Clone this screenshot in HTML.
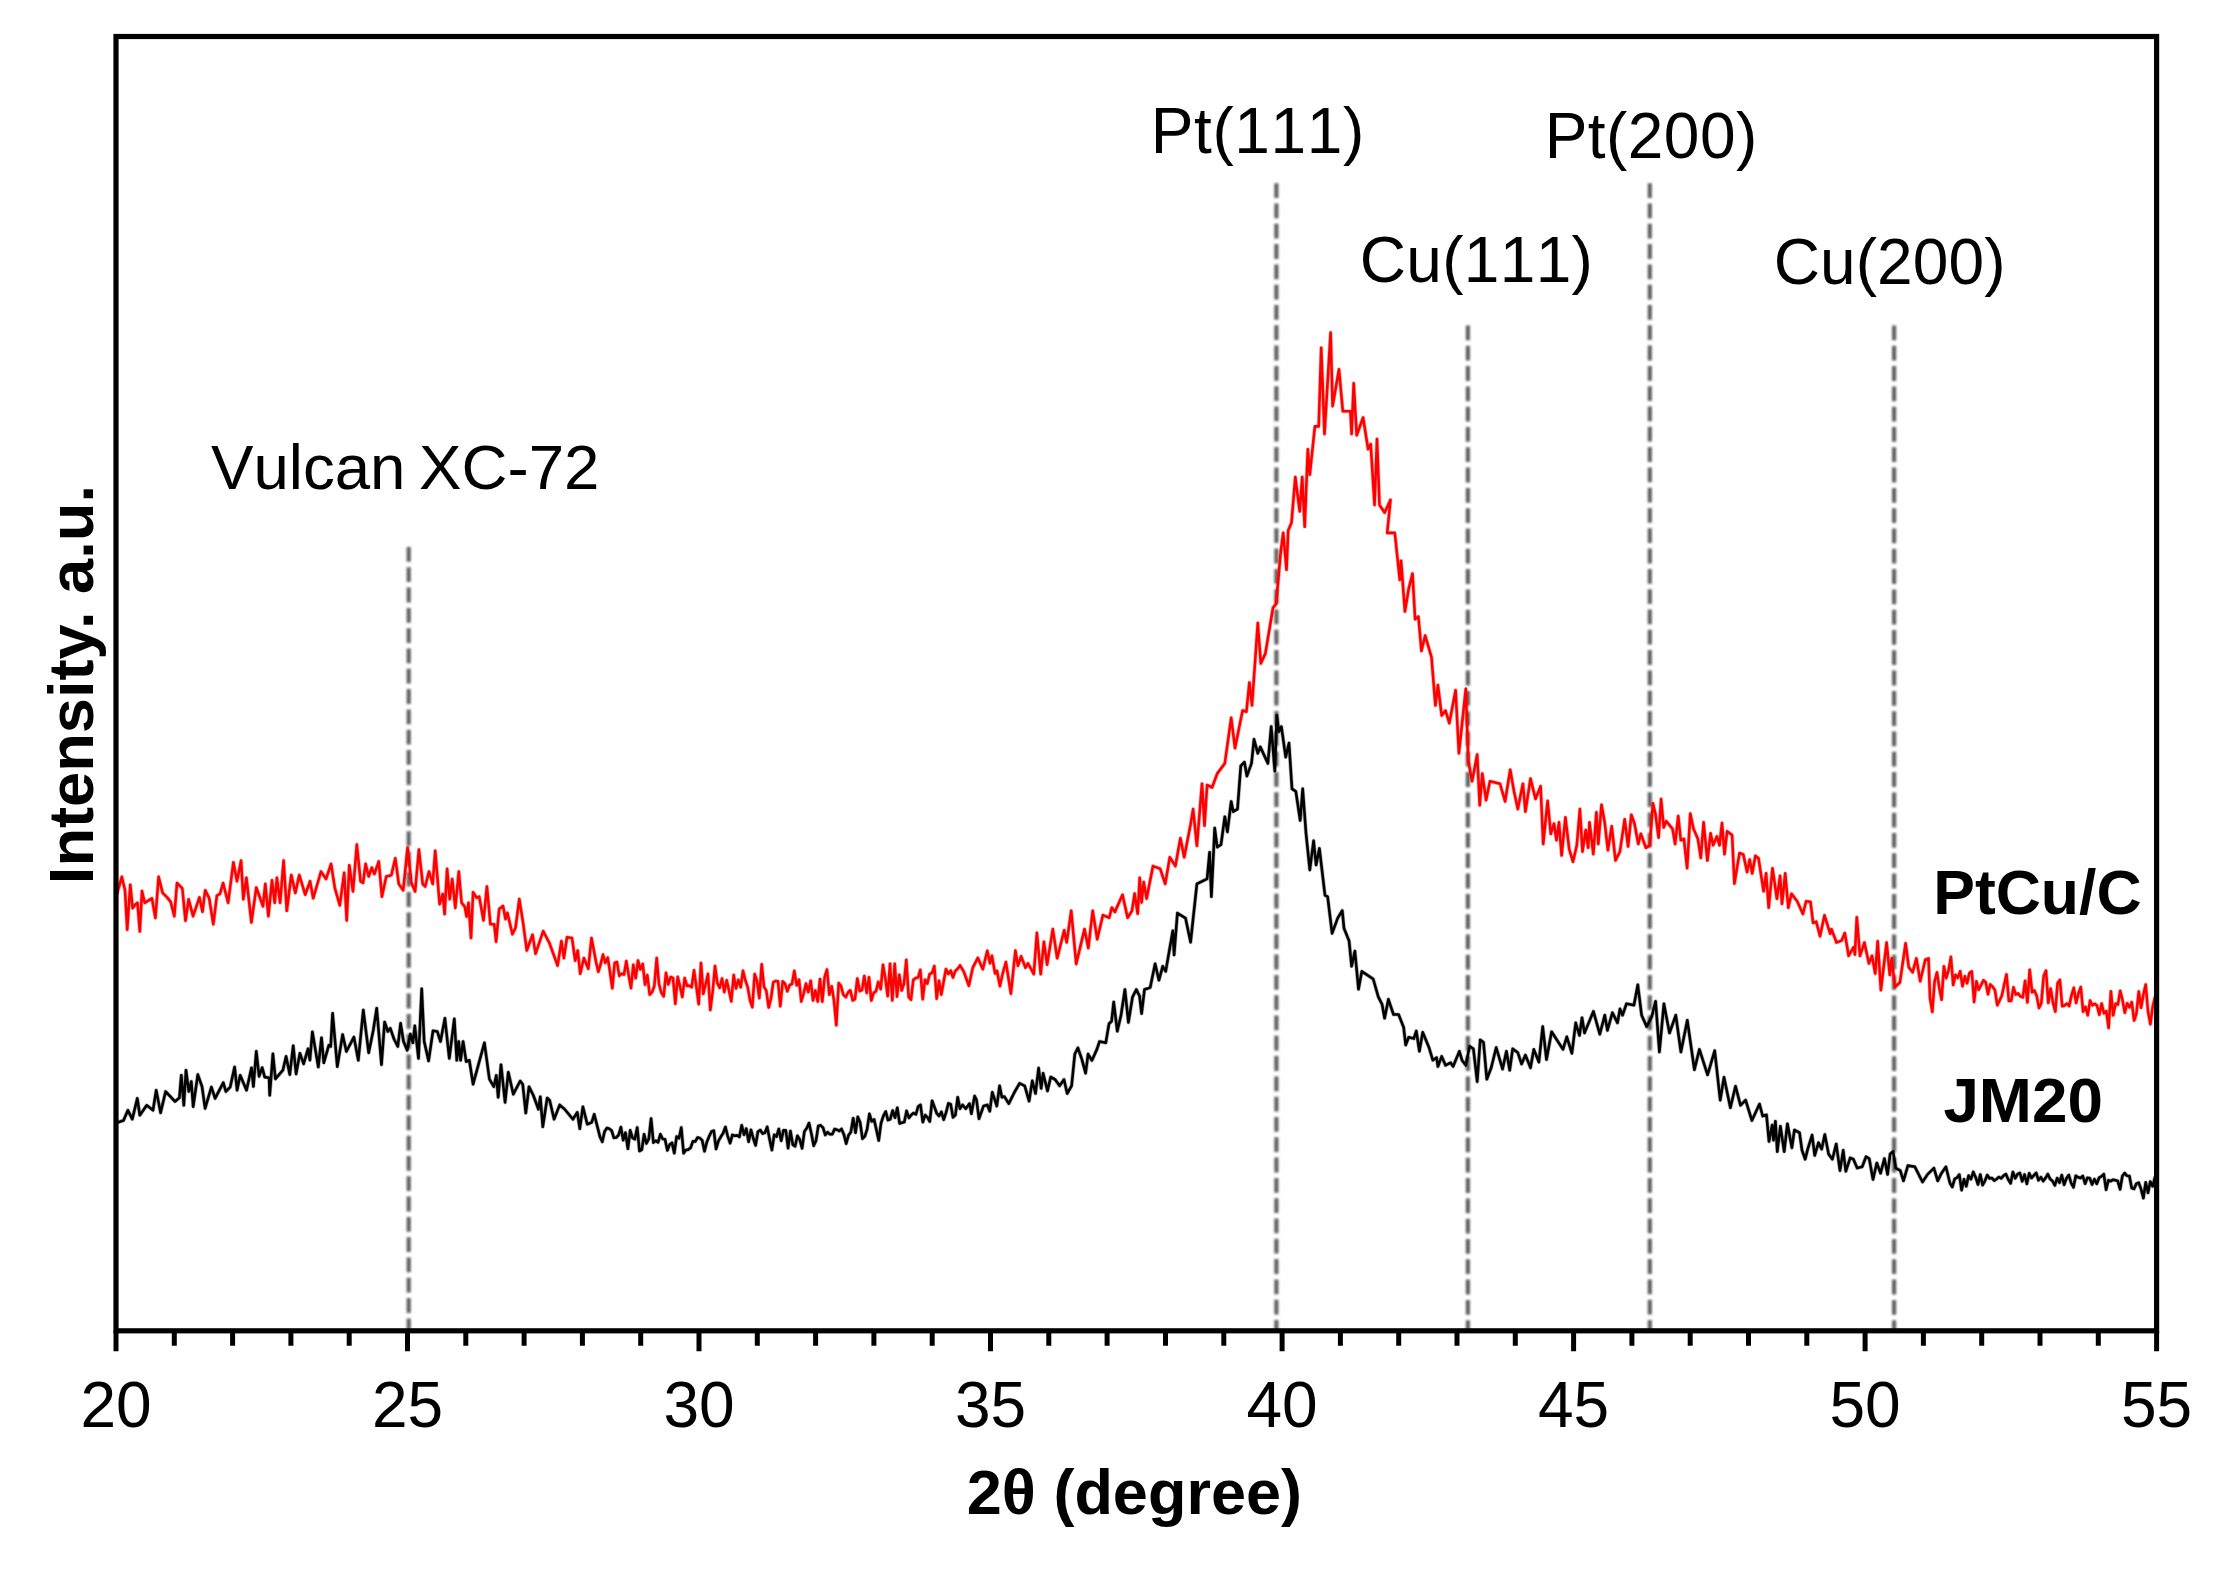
<!DOCTYPE html>
<html lang="en">
<head>
<meta charset="utf-8">
<title>XRD patterns of PtCu/C and JM20</title>
<style>
html,body{margin:0;padding:0;background:#fff;}
body{width:2231px;height:1577px;overflow:hidden;}
svg{display:block;}
</style>
</head>
<body>
<svg width="2231" height="1577" viewBox="0 0 2231 1577">
<rect x="0" y="0" width="2231" height="1577" fill="#fff"/>
<defs><filter id="soft" x="0" y="0" width="100%" height="100%" filterUnits="userSpaceOnUse" primitiveUnits="userSpaceOnUse"><feGaussianBlur stdDeviation="0.8"/></filter></defs>
<g filter="url(#soft)">
<line x1="408.7" y1="547" x2="408.7" y2="1330.8" stroke="#5e5e5e" stroke-width="4.1" stroke-dasharray="14.8 5.5" fill="none"/>
<line x1="1276.4" y1="183.2" x2="1276.4" y2="1330.8" stroke="#5e5e5e" stroke-width="4.1" stroke-dasharray="14.8 5.5" fill="none"/>
<line x1="1467.9" y1="325.5" x2="1467.9" y2="1330.8" stroke="#5e5e5e" stroke-width="4.1" stroke-dasharray="14.8 5.5" fill="none"/>
<line x1="1649.8" y1="183.2" x2="1649.8" y2="1330.8" stroke="#5e5e5e" stroke-width="4.1" stroke-dasharray="14.8 5.5" fill="none"/>
<line x1="1894.1" y1="325.5" x2="1894.1" y2="1330.8" stroke="#5e5e5e" stroke-width="4.1" stroke-dasharray="14.8 5.5" fill="none"/>
</g>
<polyline points="116.0,897.4 121.8,876.8 125.0,890.2 127.2,929.6 130.3,884.8 132.6,908.1 135.3,904.5 137.5,902.8 139.8,931.4 142.0,891.1 144.7,902.8 151.9,898.3 155.4,918.0 158.6,876.8 162.6,892.9 167.1,897.4 170.7,901.9 174.3,916.2 177.0,883.0 182.3,888.4 185.5,920.7 188.6,899.2 193.1,916.2 199.4,897.4 202.5,911.7 205.2,890.2 209.2,898.3 213.3,924.3 216.9,895.6 220.0,893.8 223.1,883.0 228.1,902.8 233.4,862.4 237.0,881.2 241.1,860.6 243.3,899.2 246.4,877.7 251.4,922.5 256.3,887.5 263.0,906.3 265.3,883.9 268.4,916.2 272.0,880.3 274.7,902.8 276.9,877.7 280.1,902.8 283.6,860.6 286.8,910.8 291.3,875.0 295.3,892.9 299.3,875.0 305.2,894.7 310.1,881.2 313.2,898.3 321.0,871.5 326.0,879.0 331.1,863.9 334.8,887.8 339.8,905.3 344.2,872.7 346.7,920.4 349.3,865.2 353.0,891.5 356.8,844.5 360.6,881.5 363.1,882.8 365.6,863.9 368.7,876.5 371.8,867.7 374.4,874.0 378.8,861.4 381.9,896.6 386.3,876.5 391.3,875.2 395.3,858.3 398.8,884.0 403.2,890.3 407.6,847.6 411.4,882.8 415.1,891.5 418.9,849.5 422.7,884.0 425.2,886.5 429.0,871.5 432.7,884.0 435.2,850.7 439.6,904.1 442.8,894.0 444.6,914.1 447.1,868.9 449.7,899.1 452.2,879.0 455.3,907.9 458.8,871.5 461.6,902.8 464.7,906.6 466.6,916.6 468.5,902.8 471.0,938.0 473.1,892.2 476.6,897.8 479.2,896.6 483.5,920.4 486.9,886.5 490.4,924.2 494.2,924.2 496.1,941.7 499.2,909.1 503.0,906.0 505.5,919.1 507.4,912.9 512.4,934.2 515.5,927.9 519.3,899.1 523.1,922.9 526.8,950.5 532.5,934.8 535.6,953.7 543.2,931.1 549.4,943.0 557.6,965.6 561.4,941.1 563.9,958.1 567.0,937.3 572.0,938.0 575.2,960.6 577.7,950.5 580.2,973.7 583.9,958.1 588.3,968.7 591.5,938.0 596.0,961.8 598.3,971.8 600.7,964.0 603.0,954.5 605.3,962.8 607.7,957.6 610.0,971.7 612.3,988.3 614.7,962.7 617.0,962.1 619.3,975.9 621.7,973.6 624.0,974.6 626.3,961.1 628.7,975.4 631.0,988.1 633.3,964.8 635.7,978.2 638.0,960.6 640.3,969.4 642.7,963.9 645.0,984.7 647.3,975.1 649.7,994.7 652.0,992.4 654.3,986.1 656.7,958.1 659.0,984.0 661.3,992.6 663.7,996.4 666.0,972.9 668.3,984.4 670.7,977.0 673.0,977.9 675.3,1003.8 677.7,976.9 680.0,986.3 682.3,996.9 684.7,978.1 687.0,985.8 689.3,985.6 691.7,987.2 694.0,970.2 696.3,986.4 698.7,1004.2 701.0,963.0 703.3,993.8 705.7,984.0 708.0,973.9 710.3,1010.0 712.7,991.6 715.0,966.0 717.3,983.0 719.7,987.8 722.0,978.5 724.3,992.1 726.7,980.2 729.0,990.6 731.3,1001.4 733.7,975.0 736.0,988.5 738.3,979.9 740.7,987.3 743.0,970.8 745.3,980.2 747.7,987.2 750.0,1000.4 752.3,1007.2 754.7,974.1 757.0,980.8 759.3,998.1 761.7,964.2 764.0,986.9 766.3,990.7 768.7,1007.5 771.0,998.3 773.3,982.2 775.7,981.0 778.0,981.4 780.3,1006.2 782.7,981.4 785.0,983.7 787.3,991.3 789.7,985.0 792.0,984.0 794.3,970.9 796.7,985.4 799.0,979.7 801.3,1001.5 803.7,993.5 806.0,983.5 808.3,992.1 810.7,980.7 813.0,1000.5 815.3,990.5 817.7,1001.6 820.0,979.0 822.3,1001.6 824.7,976.8 827.0,969.5 829.3,994.6 831.7,986.3 834.0,1000.8 836.3,1025.2 838.7,983.0 841.0,986.0 843.3,994.7 845.7,997.2 848.0,992.5 850.3,990.3 852.7,1000.4 855.0,999.1 857.3,978.5 859.7,991.1 862.0,990.1 864.3,976.0 866.7,992.9 869.0,977.2 871.3,1000.5 873.7,992.9 876.0,991.2 878.3,981.8 880.7,989.2 883.0,964.7 885.3,978.2 887.7,996.1 890.0,963.8 892.3,1000.5 894.7,963.7 897.0,996.6 899.3,974.7 901.7,990.5 904.0,983.5 906.3,959.9 908.7,997.1 911.0,999.7 913.3,979.9 915.7,978.1 918.0,977.5 920.3,969.8 922.7,999.2 925.0,979.7 927.3,983.6 929.7,973.9 932.0,973.1 934.3,966.1 936.7,998.7 939.0,980.8 941.3,994.6 943.7,981.3 946.0,969.1 948.3,973.9 950.7,970.5 953.0,977.5 955.3,971.0 957.7,968.8 960.0,965.4 963.8,971.7 968.9,985.7 972.7,967.9 977.8,957.8 982.8,969.2 987.3,950.8 990.0,963.3 991.9,955.7 995.1,973.5 997.0,970.9 999.9,986.1 1002.7,973.5 1005.9,962.0 1010.9,993.7 1015.4,950.6 1017.9,965.8 1021.1,956.3 1025.5,967.7 1028.0,963.3 1033.8,974.1 1036.9,932.9 1040.7,974.1 1043.9,941.8 1047.1,964.6 1052.8,929.1 1057.2,958.2 1064.2,930.3 1066.7,942.4 1071.2,910.7 1076.2,963.9 1084.5,929.1 1088.3,948.1 1092.7,910.7 1097.2,939.2 1102.9,915.1 1109.2,917.7 1111.8,907.5 1114.9,911.9 1122.5,894.8 1127.6,917.7 1132.0,910.7 1134.6,893.6 1137.7,913.8 1139.7,877.7 1141.6,902.4 1143.7,882.1 1146.6,898.6 1153.0,866.1 1160.1,868.7 1165.2,883.9 1169.8,857.3 1175.4,866.1 1180.4,838.2 1184.2,857.3 1190.6,824.3 1193.1,809.1 1196.9,845.8 1202.0,783.7 1204.5,825.6 1207.1,785.0 1212.1,787.5 1217.2,773.6 1224.8,763.4 1231.2,717.8 1235.0,748.2 1242.6,710.5 1246.4,711.7 1249.4,682.6 1252.0,705.4 1257.8,623.0 1260.8,663.5 1265.4,653.4 1273.0,607.7 1276.1,603.9 1280.6,553.2 1283.2,532.9 1286.5,569.7 1288.2,530.4 1291.5,522.8 1295.3,477.1 1299.7,511.4 1302.2,477.1 1304.7,526.6 1307.8,449.2 1309.8,474.6 1314.9,426.4 1318.7,426.4 1321.2,347.8 1324.5,434.0 1330.6,332.5 1332.6,406.1 1339.0,369.3 1342.8,411.2 1350.4,411.2 1351.6,434.0 1353.7,383.3 1356.7,435.3 1363.1,417.5 1368.1,449.2 1370.7,444.1 1374.5,505.0 1377.0,439.1 1379.5,505.0 1384.6,512.6 1390.5,499.9 1387.2,532.9 1394.8,532.9 1399.8,579.8 1401.1,560.8 1404.9,611.5 1408.7,588.7 1412.5,573.5 1415.1,619.2 1418.4,616.6 1421.4,650.9 1425.2,635.6 1431.5,657.2 1435.4,705.4 1437.9,685.1 1441.7,715.5 1445.5,710.5 1449.3,723.2 1455.6,690.2 1458.9,753.3 1465.8,688.9 1468.3,760.9 1472.1,781.2 1477.2,754.5 1479.7,805.3 1482.3,773.6 1486.1,800.2 1489.9,781.2 1500.0,783.7 1505.1,801.5 1510.2,769.8 1514.0,791.3 1517.8,809.1 1522.9,783.7 1525.4,811.6 1530.5,778.6 1535.5,798.9 1540.6,786.2 1543.2,844.0 1547.6,800.9 1550.8,833.8 1554.0,823.7 1556.5,840.2 1559.0,822.4 1561.6,855.4 1565.4,817.4 1569.2,849.1 1573.0,861.8 1576.8,845.3 1579.9,809.1 1582.5,851.6 1585.7,830.0 1588.2,847.8 1589.5,822.4 1593.3,854.1 1596.4,812.3 1598.3,844.0 1601.5,804.7 1604.7,822.4 1607.9,850.3 1611.7,826.2 1615.5,860.5 1619.9,851.6 1624.7,819.3 1628.1,846.5 1631.3,814.8 1634.5,823.7 1638.3,844.0 1640.8,833.8 1645.9,847.8 1649.7,845.3 1652.9,803.4 1655.4,813.6 1658.6,837.7 1661.1,799.0 1663.7,827.5 1666.2,821.2 1672.5,828.8 1675.1,844.0 1678.2,816.1 1680.8,840.2 1683.9,838.9 1687.1,868.1 1690.3,813.6 1693.5,828.8 1697.9,838.9 1700.8,857.9 1703.6,822.4 1707.4,860.5 1710.6,833.2 1713.1,845.3 1716.9,836.4 1719.5,845.3 1722.0,823.1 1724.5,854.1 1727.1,831.3 1732.1,835.1 1734.4,883.6 1739.5,853.1 1743.3,854.4 1747.1,872.1 1749.7,859.5 1752.2,873.4 1755.4,855.7 1758.5,858.2 1763.6,891.2 1766.1,873.4 1768.7,907.7 1772.5,868.3 1776.9,898.8 1780.1,875.9 1782.0,903.8 1785.2,873.4 1788.3,907.7 1791.5,893.7 1797.2,901.3 1802.9,914.0 1806.1,901.3 1810.5,901.9 1813.1,922.9 1816.2,921.6 1820.0,936.2 1824.5,915.3 1830.2,933.7 1831.5,929.2 1836.5,942.5 1841.6,940.6 1844.8,933.0 1848.6,955.8 1853.7,947.0 1854.9,954.6 1856.8,917.2 1860.0,955.8 1864.4,942.5 1868.9,963.5 1872.0,955.8 1875.2,973.6 1877.7,941.3 1880.9,990.1 1886.6,942.5 1889.8,974.9 1891.7,958.4 1894.9,986.9 1899.9,982.5 1905.6,943.2 1908.8,967.3 1912.6,972.3 1916.4,958.4 1920.2,981.2 1925.3,959.7 1928.5,958.4 1930.0,998.0 1932.3,1011.9 1934.6,981.5 1937.0,972.4 1939.3,987.9 1941.6,999.7 1943.9,966.4 1946.2,978.1 1948.6,970.1 1950.9,956.9 1953.2,985.0 1955.5,974.9 1957.8,977.9 1960.2,971.2 1962.5,986.3 1964.8,976.2 1967.1,983.3 1969.4,973.1 1971.8,971.3 1974.1,1001.9 1976.4,981.3 1978.7,989.7 1981.0,985.4 1983.4,980.3 1985.7,982.3 1988.0,994.3 1990.3,984.4 1992.6,986.7 1994.9,990.0 1997.3,1005.3 1999.6,1000.5 2001.9,995.5 2004.2,984.5 2006.5,974.4 2008.9,1001.0 2011.2,1000.7 2013.5,987.3 2015.8,994.6 2018.1,993.4 2020.5,996.5 2022.8,997.4 2025.1,980.9 2027.4,1002.4 2029.7,969.7 2032.1,992.3 2034.4,990.5 2036.7,996.1 2039.0,1008.0 2041.3,1003.2 2043.7,976.0 2046.0,970.6 2048.3,1002.9 2050.6,988.5 2052.9,1002.4 2055.3,1011.6 2057.6,983.1 2059.9,979.9 2062.2,1006.2 2064.5,1005.6 2066.9,1003.6 2069.2,1006.0 2071.5,995.4 2073.8,987.8 2076.1,1002.9 2078.5,993.2 2080.8,987.0 2083.1,1011.6 2085.4,1006.9 2087.7,1015.2 2090.1,1000.5 2092.4,1005.3 2094.7,1003.9 2097.0,1005.5 2099.3,1014.7 2101.6,1003.5 2104.0,1013.4 2106.3,1011.2 2108.6,1028.0 2110.9,991.4 2113.2,1015.3 2115.6,1003.6 2117.9,1004.6 2120.2,990.9 2122.5,1000.1 2124.8,1012.7 2127.2,1003.2 2129.5,1007.4 2131.8,1002.1 2134.1,1020.5 2136.4,1013.6 2138.8,991.5 2141.1,1007.7 2143.4,994.5 2145.7,984.5 2148.0,1011.5 2150.4,1024.2 2152.7,1006.6 2155.0,997.0" stroke="#ff0000" stroke-width="4.0" stroke-opacity="0.3" fill="none" stroke-linejoin="round" stroke-linecap="round"/>
<polyline points="116.0,897.4 121.8,876.8 125.0,890.2 127.2,929.6 130.3,884.8 132.6,908.1 135.3,904.5 137.5,902.8 139.8,931.4 142.0,891.1 144.7,902.8 151.9,898.3 155.4,918.0 158.6,876.8 162.6,892.9 167.1,897.4 170.7,901.9 174.3,916.2 177.0,883.0 182.3,888.4 185.5,920.7 188.6,899.2 193.1,916.2 199.4,897.4 202.5,911.7 205.2,890.2 209.2,898.3 213.3,924.3 216.9,895.6 220.0,893.8 223.1,883.0 228.1,902.8 233.4,862.4 237.0,881.2 241.1,860.6 243.3,899.2 246.4,877.7 251.4,922.5 256.3,887.5 263.0,906.3 265.3,883.9 268.4,916.2 272.0,880.3 274.7,902.8 276.9,877.7 280.1,902.8 283.6,860.6 286.8,910.8 291.3,875.0 295.3,892.9 299.3,875.0 305.2,894.7 310.1,881.2 313.2,898.3 321.0,871.5 326.0,879.0 331.1,863.9 334.8,887.8 339.8,905.3 344.2,872.7 346.7,920.4 349.3,865.2 353.0,891.5 356.8,844.5 360.6,881.5 363.1,882.8 365.6,863.9 368.7,876.5 371.8,867.7 374.4,874.0 378.8,861.4 381.9,896.6 386.3,876.5 391.3,875.2 395.3,858.3 398.8,884.0 403.2,890.3 407.6,847.6 411.4,882.8 415.1,891.5 418.9,849.5 422.7,884.0 425.2,886.5 429.0,871.5 432.7,884.0 435.2,850.7 439.6,904.1 442.8,894.0 444.6,914.1 447.1,868.9 449.7,899.1 452.2,879.0 455.3,907.9 458.8,871.5 461.6,902.8 464.7,906.6 466.6,916.6 468.5,902.8 471.0,938.0 473.1,892.2 476.6,897.8 479.2,896.6 483.5,920.4 486.9,886.5 490.4,924.2 494.2,924.2 496.1,941.7 499.2,909.1 503.0,906.0 505.5,919.1 507.4,912.9 512.4,934.2 515.5,927.9 519.3,899.1 523.1,922.9 526.8,950.5 532.5,934.8 535.6,953.7 543.2,931.1 549.4,943.0 557.6,965.6 561.4,941.1 563.9,958.1 567.0,937.3 572.0,938.0 575.2,960.6 577.7,950.5 580.2,973.7 583.9,958.1 588.3,968.7 591.5,938.0 596.0,961.8 598.3,971.8 600.7,964.0 603.0,954.5 605.3,962.8 607.7,957.6 610.0,971.7 612.3,988.3 614.7,962.7 617.0,962.1 619.3,975.9 621.7,973.6 624.0,974.6 626.3,961.1 628.7,975.4 631.0,988.1 633.3,964.8 635.7,978.2 638.0,960.6 640.3,969.4 642.7,963.9 645.0,984.7 647.3,975.1 649.7,994.7 652.0,992.4 654.3,986.1 656.7,958.1 659.0,984.0 661.3,992.6 663.7,996.4 666.0,972.9 668.3,984.4 670.7,977.0 673.0,977.9 675.3,1003.8 677.7,976.9 680.0,986.3 682.3,996.9 684.7,978.1 687.0,985.8 689.3,985.6 691.7,987.2 694.0,970.2 696.3,986.4 698.7,1004.2 701.0,963.0 703.3,993.8 705.7,984.0 708.0,973.9 710.3,1010.0 712.7,991.6 715.0,966.0 717.3,983.0 719.7,987.8 722.0,978.5 724.3,992.1 726.7,980.2 729.0,990.6 731.3,1001.4 733.7,975.0 736.0,988.5 738.3,979.9 740.7,987.3 743.0,970.8 745.3,980.2 747.7,987.2 750.0,1000.4 752.3,1007.2 754.7,974.1 757.0,980.8 759.3,998.1 761.7,964.2 764.0,986.9 766.3,990.7 768.7,1007.5 771.0,998.3 773.3,982.2 775.7,981.0 778.0,981.4 780.3,1006.2 782.7,981.4 785.0,983.7 787.3,991.3 789.7,985.0 792.0,984.0 794.3,970.9 796.7,985.4 799.0,979.7 801.3,1001.5 803.7,993.5 806.0,983.5 808.3,992.1 810.7,980.7 813.0,1000.5 815.3,990.5 817.7,1001.6 820.0,979.0 822.3,1001.6 824.7,976.8 827.0,969.5 829.3,994.6 831.7,986.3 834.0,1000.8 836.3,1025.2 838.7,983.0 841.0,986.0 843.3,994.7 845.7,997.2 848.0,992.5 850.3,990.3 852.7,1000.4 855.0,999.1 857.3,978.5 859.7,991.1 862.0,990.1 864.3,976.0 866.7,992.9 869.0,977.2 871.3,1000.5 873.7,992.9 876.0,991.2 878.3,981.8 880.7,989.2 883.0,964.7 885.3,978.2 887.7,996.1 890.0,963.8 892.3,1000.5 894.7,963.7 897.0,996.6 899.3,974.7 901.7,990.5 904.0,983.5 906.3,959.9 908.7,997.1 911.0,999.7 913.3,979.9 915.7,978.1 918.0,977.5 920.3,969.8 922.7,999.2 925.0,979.7 927.3,983.6 929.7,973.9 932.0,973.1 934.3,966.1 936.7,998.7 939.0,980.8 941.3,994.6 943.7,981.3 946.0,969.1 948.3,973.9 950.7,970.5 953.0,977.5 955.3,971.0 957.7,968.8 960.0,965.4 963.8,971.7 968.9,985.7 972.7,967.9 977.8,957.8 982.8,969.2 987.3,950.8 990.0,963.3 991.9,955.7 995.1,973.5 997.0,970.9 999.9,986.1 1002.7,973.5 1005.9,962.0 1010.9,993.7 1015.4,950.6 1017.9,965.8 1021.1,956.3 1025.5,967.7 1028.0,963.3 1033.8,974.1 1036.9,932.9 1040.7,974.1 1043.9,941.8 1047.1,964.6 1052.8,929.1 1057.2,958.2 1064.2,930.3 1066.7,942.4 1071.2,910.7 1076.2,963.9 1084.5,929.1 1088.3,948.1 1092.7,910.7 1097.2,939.2 1102.9,915.1 1109.2,917.7 1111.8,907.5 1114.9,911.9 1122.5,894.8 1127.6,917.7 1132.0,910.7 1134.6,893.6 1137.7,913.8 1139.7,877.7 1141.6,902.4 1143.7,882.1 1146.6,898.6 1153.0,866.1 1160.1,868.7 1165.2,883.9 1169.8,857.3 1175.4,866.1 1180.4,838.2 1184.2,857.3 1190.6,824.3 1193.1,809.1 1196.9,845.8 1202.0,783.7 1204.5,825.6 1207.1,785.0 1212.1,787.5 1217.2,773.6 1224.8,763.4 1231.2,717.8 1235.0,748.2 1242.6,710.5 1246.4,711.7 1249.4,682.6 1252.0,705.4 1257.8,623.0 1260.8,663.5 1265.4,653.4 1273.0,607.7 1276.1,603.9 1280.6,553.2 1283.2,532.9 1286.5,569.7 1288.2,530.4 1291.5,522.8 1295.3,477.1 1299.7,511.4 1302.2,477.1 1304.7,526.6 1307.8,449.2 1309.8,474.6 1314.9,426.4 1318.7,426.4 1321.2,347.8 1324.5,434.0 1330.6,332.5 1332.6,406.1 1339.0,369.3 1342.8,411.2 1350.4,411.2 1351.6,434.0 1353.7,383.3 1356.7,435.3 1363.1,417.5 1368.1,449.2 1370.7,444.1 1374.5,505.0 1377.0,439.1 1379.5,505.0 1384.6,512.6 1390.5,499.9 1387.2,532.9 1394.8,532.9 1399.8,579.8 1401.1,560.8 1404.9,611.5 1408.7,588.7 1412.5,573.5 1415.1,619.2 1418.4,616.6 1421.4,650.9 1425.2,635.6 1431.5,657.2 1435.4,705.4 1437.9,685.1 1441.7,715.5 1445.5,710.5 1449.3,723.2 1455.6,690.2 1458.9,753.3 1465.8,688.9 1468.3,760.9 1472.1,781.2 1477.2,754.5 1479.7,805.3 1482.3,773.6 1486.1,800.2 1489.9,781.2 1500.0,783.7 1505.1,801.5 1510.2,769.8 1514.0,791.3 1517.8,809.1 1522.9,783.7 1525.4,811.6 1530.5,778.6 1535.5,798.9 1540.6,786.2 1543.2,844.0 1547.6,800.9 1550.8,833.8 1554.0,823.7 1556.5,840.2 1559.0,822.4 1561.6,855.4 1565.4,817.4 1569.2,849.1 1573.0,861.8 1576.8,845.3 1579.9,809.1 1582.5,851.6 1585.7,830.0 1588.2,847.8 1589.5,822.4 1593.3,854.1 1596.4,812.3 1598.3,844.0 1601.5,804.7 1604.7,822.4 1607.9,850.3 1611.7,826.2 1615.5,860.5 1619.9,851.6 1624.7,819.3 1628.1,846.5 1631.3,814.8 1634.5,823.7 1638.3,844.0 1640.8,833.8 1645.9,847.8 1649.7,845.3 1652.9,803.4 1655.4,813.6 1658.6,837.7 1661.1,799.0 1663.7,827.5 1666.2,821.2 1672.5,828.8 1675.1,844.0 1678.2,816.1 1680.8,840.2 1683.9,838.9 1687.1,868.1 1690.3,813.6 1693.5,828.8 1697.9,838.9 1700.8,857.9 1703.6,822.4 1707.4,860.5 1710.6,833.2 1713.1,845.3 1716.9,836.4 1719.5,845.3 1722.0,823.1 1724.5,854.1 1727.1,831.3 1732.1,835.1 1734.4,883.6 1739.5,853.1 1743.3,854.4 1747.1,872.1 1749.7,859.5 1752.2,873.4 1755.4,855.7 1758.5,858.2 1763.6,891.2 1766.1,873.4 1768.7,907.7 1772.5,868.3 1776.9,898.8 1780.1,875.9 1782.0,903.8 1785.2,873.4 1788.3,907.7 1791.5,893.7 1797.2,901.3 1802.9,914.0 1806.1,901.3 1810.5,901.9 1813.1,922.9 1816.2,921.6 1820.0,936.2 1824.5,915.3 1830.2,933.7 1831.5,929.2 1836.5,942.5 1841.6,940.6 1844.8,933.0 1848.6,955.8 1853.7,947.0 1854.9,954.6 1856.8,917.2 1860.0,955.8 1864.4,942.5 1868.9,963.5 1872.0,955.8 1875.2,973.6 1877.7,941.3 1880.9,990.1 1886.6,942.5 1889.8,974.9 1891.7,958.4 1894.9,986.9 1899.9,982.5 1905.6,943.2 1908.8,967.3 1912.6,972.3 1916.4,958.4 1920.2,981.2 1925.3,959.7 1928.5,958.4 1930.0,998.0 1932.3,1011.9 1934.6,981.5 1937.0,972.4 1939.3,987.9 1941.6,999.7 1943.9,966.4 1946.2,978.1 1948.6,970.1 1950.9,956.9 1953.2,985.0 1955.5,974.9 1957.8,977.9 1960.2,971.2 1962.5,986.3 1964.8,976.2 1967.1,983.3 1969.4,973.1 1971.8,971.3 1974.1,1001.9 1976.4,981.3 1978.7,989.7 1981.0,985.4 1983.4,980.3 1985.7,982.3 1988.0,994.3 1990.3,984.4 1992.6,986.7 1994.9,990.0 1997.3,1005.3 1999.6,1000.5 2001.9,995.5 2004.2,984.5 2006.5,974.4 2008.9,1001.0 2011.2,1000.7 2013.5,987.3 2015.8,994.6 2018.1,993.4 2020.5,996.5 2022.8,997.4 2025.1,980.9 2027.4,1002.4 2029.7,969.7 2032.1,992.3 2034.4,990.5 2036.7,996.1 2039.0,1008.0 2041.3,1003.2 2043.7,976.0 2046.0,970.6 2048.3,1002.9 2050.6,988.5 2052.9,1002.4 2055.3,1011.6 2057.6,983.1 2059.9,979.9 2062.2,1006.2 2064.5,1005.6 2066.9,1003.6 2069.2,1006.0 2071.5,995.4 2073.8,987.8 2076.1,1002.9 2078.5,993.2 2080.8,987.0 2083.1,1011.6 2085.4,1006.9 2087.7,1015.2 2090.1,1000.5 2092.4,1005.3 2094.7,1003.9 2097.0,1005.5 2099.3,1014.7 2101.6,1003.5 2104.0,1013.4 2106.3,1011.2 2108.6,1028.0 2110.9,991.4 2113.2,1015.3 2115.6,1003.6 2117.9,1004.6 2120.2,990.9 2122.5,1000.1 2124.8,1012.7 2127.2,1003.2 2129.5,1007.4 2131.8,1002.1 2134.1,1020.5 2136.4,1013.6 2138.8,991.5 2141.1,1007.7 2143.4,994.5 2145.7,984.5 2148.0,1011.5 2150.4,1024.2 2152.7,1006.6 2155.0,997.0" stroke="#ff0000" stroke-width="2.6" fill="none" stroke-linejoin="round" stroke-linecap="round"/>
<polyline points="116.0,1122.9 123.5,1120.4 127.9,1110.3 132.3,1119.1 137.3,1098.4 139.8,1115.3 146.7,1105.3 153.0,1110.3 156.2,1090.2 160.6,1112.8 165.6,1091.5 175.0,1101.5 179.4,1097.8 181.3,1075.2 183.8,1105.3 186.0,1070.2 188.8,1091.5 191.3,1081.5 193.2,1106.6 197.8,1074.6 202.0,1086.5 205.1,1108.4 211.4,1087.1 215.1,1098.4 223.3,1082.7 225.8,1091.5 230.2,1087.1 234.6,1067.0 237.1,1090.2 240.2,1075.2 246.5,1090.2 251.5,1067.7 253.4,1086.5 256.3,1051.3 259.1,1076.4 262.2,1067.7 264.7,1077.1 269.1,1077.7 269.7,1095.3 272.9,1053.8 275.4,1078.9 282.9,1070.2 286.1,1056.4 289.8,1074.6 293.2,1045.7 296.1,1073.9 299.9,1053.2 303.6,1063.9 308.0,1048.8 309.9,1060.1 312.4,1031.9 318.3,1067.0 321.5,1037.7 323.8,1062.8 328.8,1045.3 330.7,1046.5 332.6,1013.3 337.3,1066.6 342.6,1034.6 346.4,1051.5 353.9,1037.1 358.3,1060.3 363.3,1010.1 368.7,1052.8 373.3,1030.2 376.7,1008.2 381.5,1064.7 384.6,1022.0 387.8,1031.5 390.3,1028.3 394.0,1039.0 397.8,1046.5 400.6,1023.3 403.5,1041.5 407.2,1050.3 410.4,1034.0 412.9,1042.8 414.8,1025.8 418.5,1058.4 421.7,988.8 424.2,1041.5 428.6,1060.9 433.0,1030.8 437.3,1031.5 440.5,1041.5 444.9,1018.3 449.3,1058.4 454.3,1018.9 456.8,1060.3 458.7,1041.5 460.6,1060.3 463.1,1041.5 466.2,1061.6 469.3,1060.3 473.1,1084.2 484.4,1042.8 489.4,1079.1 493.8,1086.7 496.3,1075.4 498.2,1097.3 501.0,1064.7 505.1,1102.4 508.3,1072.2 513.3,1094.2 520.2,1081.0 522.7,1084.2 525.8,1113.0 529.0,1086.7 533.4,1095.5 538.4,1109.3 540.3,1096.7 542.8,1126.8 547.2,1098.0 549.7,1100.5 554.1,1119.3 559.7,1104.9 564.7,1109.3 572.9,1119.3 577.3,1112.4 579.8,1128.7 582.9,1106.8 587.3,1124.3 591.7,1122.4 594.2,1114.3 600.0,1136.9 602.3,1141.8 604.6,1131.4 607.0,1128.0 609.3,1128.8 611.6,1130.5 613.9,1137.8 616.3,1137.5 618.6,1135.0 620.9,1127.2 623.2,1140.2 625.5,1132.7 627.9,1148.8 630.2,1130.3 632.5,1137.8 634.8,1139.2 637.2,1127.5 639.5,1151.0 641.8,1149.7 644.1,1134.3 646.4,1143.4 648.8,1138.8 651.1,1118.5 653.4,1142.6 655.7,1140.7 658.1,1142.3 660.4,1134.2 662.7,1139.0 665.0,1139.3 667.4,1150.4 669.7,1144.5 672.0,1142.8 674.3,1153.1 676.6,1136.6 679.0,1138.3 681.3,1127.5 683.6,1153.2 685.9,1150.0 688.3,1149.6 690.6,1147.8 692.9,1141.4 695.2,1141.5 697.5,1137.6 699.9,1138.1 702.2,1140.4 704.5,1151.3 706.8,1142.3 709.2,1136.3 711.5,1131.5 713.8,1130.7 716.1,1149.0 718.4,1141.1 720.8,1136.8 723.1,1133.3 725.4,1127.0 727.7,1136.1 730.1,1143.2 732.4,1134.9 734.7,1135.8 737.0,1135.4 739.4,1136.9 741.7,1125.3 744.0,1134.7 746.3,1128.6 748.6,1141.7 751.0,1129.9 753.3,1138.5 755.6,1145.4 757.9,1131.7 760.3,1130.0 762.6,1133.6 764.9,1132.8 767.2,1126.9 769.5,1138.8 771.9,1150.1 774.2,1134.8 776.5,1136.6 778.8,1129.0 781.2,1140.7 783.5,1130.3 785.8,1130.4 788.1,1148.2 790.4,1131.1 792.8,1144.6 795.1,1146.3 797.4,1135.8 799.7,1139.5 802.1,1148.3 804.4,1131.4 806.7,1128.3 809.0,1123.0 811.4,1133.7 813.7,1145.7 816.0,1140.7 818.3,1125.9 820.6,1125.3 823.0,1127.7 825.3,1135.0 827.6,1132.2 829.9,1134.3 832.3,1134.3 834.6,1129.1 836.9,1129.7 839.2,1130.9 841.5,1128.9 843.9,1134.6 846.2,1143.6 848.5,1135.3 850.8,1132.2 853.2,1118.3 855.5,1132.8 857.8,1116.9 860.1,1122.3 862.5,1138.7 864.8,1136.3 867.1,1129.4 869.4,1113.9 871.7,1121.4 874.1,1119.5 876.4,1129.7 878.7,1140.5 881.0,1123.4 883.4,1115.9 885.7,1111.5 888.0,1120.1 890.3,1119.2 892.6,1110.5 895.0,1117.7 897.3,1107.7 899.6,1123.4 901.9,1122.7 904.3,1122.0 906.6,1110.9 908.9,1117.9 911.2,1115.0 913.5,1113.1 915.9,1114.3 918.2,1106.5 920.5,1104.9 922.8,1122.1 925.2,1115.1 927.5,1117.4 929.8,1121.5 932.1,1100.7 934.5,1107.2 936.8,1113.5 939.1,1116.0 941.4,1111.8 943.7,1119.7 946.1,1112.4 948.4,1103.4 950.7,1104.2 953.0,1117.4 955.4,1115.0 957.7,1097.2 960.0,1108.7 962.5,1104.9 965.7,1108.7 969.5,1103.6 971.4,1113.7 974.6,1096.0 976.5,1099.8 979.0,1118.8 983.5,1106.1 987.3,1104.9 989.8,1111.2 992.3,1092.2 996.8,1106.1 999.6,1085.8 1001.9,1097.3 1004.4,1096.6 1008.8,1103.6 1014.5,1092.2 1019.6,1083.3 1024.7,1085.8 1029.1,1101.1 1032.3,1080.8 1035.5,1093.5 1038.6,1068.1 1041.2,1088.4 1043.1,1073.2 1047.5,1090.9 1050.7,1077.0 1055.1,1079.5 1059.6,1085.8 1064.0,1079.5 1067.2,1093.5 1071.6,1085.8 1074.8,1054.1 1077.9,1047.8 1081.8,1059.2 1085.6,1073.2 1088.1,1054.1 1091.9,1060.5 1097.0,1049.1 1099.5,1041.5 1105.8,1042.7 1109.0,1023.7 1111.6,1021.2 1113.7,1002.1 1117.3,1031.3 1121.1,1014.8 1124.9,989.5 1128.4,1022.4 1132.5,997.1 1136.3,989.5 1139.5,995.8 1141.6,1013.6 1144.5,989.5 1150.2,987.6 1155.1,963.8 1158.9,980.3 1162.7,966.3 1165.7,971.4 1172.8,930.8 1174.1,954.9 1177.4,913.1 1185.5,918.1 1190.6,942.2 1196.9,883.9 1207.1,878.8 1209.6,852.2 1211.4,896.6 1214.7,828.1 1217.2,847.1 1221.0,844.6 1224.8,816.7 1227.4,831.9 1231.2,801.5 1233.2,811.6 1237.5,809.1 1240.8,765.9 1244.4,762.1 1246.9,776.1 1251.5,763.4 1254.0,739.3 1257.8,753.3 1260.3,746.9 1267.9,763.4 1271.2,726.6 1274.8,771.0 1276.8,715.2 1278.9,731.7 1281.4,726.6 1285.7,757.1 1289.0,743.1 1292.0,788.8 1295.8,791.3 1300.2,820.5 1302.7,788.8 1306.0,833.2 1309.8,869.9 1313.6,840.8 1316.1,864.9 1319.4,848.4 1325.0,895.3 1327.6,896.6 1332.1,933.4 1337.7,918.1 1342.3,910.5 1344.0,928.3 1349.1,941.0 1351.6,966.3 1354.9,951.1 1358.5,989.2 1361.8,971.4 1373.2,979.0 1378.3,996.8 1382.1,1004.4 1384.6,1018.3 1388.4,999.3 1393.5,1014.5 1398.6,1014.5 1403.6,1027.2 1405.7,1045.0 1408.7,1037.3 1413.8,1038.6 1416.3,1031.0 1419.4,1051.3 1422.7,1032.3 1429.0,1047.5 1432.8,1060.2 1436.6,1057.6 1437.9,1066.5 1441.7,1056.4 1445.5,1065.3 1450.6,1062.7 1453.1,1066.5 1459.4,1051.3 1462.0,1060.2 1465.8,1065.3 1469.6,1046.2 1473.4,1048.8 1477.2,1081.7 1480.2,1039.9 1483.5,1042.4 1486.8,1079.2 1491.2,1067.8 1496.2,1047.5 1502.6,1069.1 1506.4,1051.3 1509.7,1070.3 1512.7,1048.8 1517.8,1052.6 1521.6,1064.0 1525.4,1055.1 1530.5,1067.8 1533.8,1049.4 1538.9,1062.1 1542.7,1026.6 1546.5,1059.6 1551.6,1031.7 1563.0,1049.4 1566.8,1036.8 1571.9,1053.3 1575.7,1022.8 1579.5,1035.5 1582.0,1017.7 1584.5,1033.0 1593.4,1011.4 1599.8,1034.2 1604.8,1015.2 1607.4,1030.4 1612.4,1012.7 1617.5,1022.8 1620.0,1008.9 1622.6,1015.2 1626.4,1003.8 1634.0,1005.1 1637.8,984.8 1641.6,1015.2 1646.7,1026.6 1651.8,1016.5 1655.6,1001.3 1659.4,1052.0 1663.9,1003.8 1669.5,1033.0 1675.8,1015.2 1680.9,1052.0 1687.3,1020.3 1694.4,1069.7 1699.4,1049.4 1707.6,1074.8 1714.7,1050.7 1720.2,1100.2 1724.0,1077.3 1730.4,1107.8 1735.5,1086.2 1740.5,1105.3 1745.6,1100.2 1751.9,1120.5 1759.5,1104.0 1762.7,1116.1 1766.5,1114.8 1769.0,1141.5 1772.2,1125.0 1773.5,1140.2 1775.4,1121.2 1777.3,1151.6 1780.4,1126.2 1784.2,1151.6 1787.4,1123.7 1791.9,1147.8 1794.4,1130.0 1799.5,1132.6 1802.0,1150.3 1805.2,1159.2 1807.7,1149.1 1812.1,1135.1 1814.7,1155.4 1818.5,1142.7 1821.7,1149.1 1824.8,1134.5 1828.6,1154.1 1832.4,1159.2 1836.2,1144.0 1840.0,1170.6 1843.2,1150.3 1845.8,1171.3 1850.2,1157.9 1853.4,1159.2 1857.2,1168.1 1862.2,1166.8 1866.0,1156.7 1869.2,1158.6 1873.0,1179.5 1876.8,1163.0 1880.6,1173.2 1884.4,1158.6 1887.6,1174.4 1890.1,1154.1 1893.1,1151.6 1895.8,1168.1 1900.3,1170.6 1903.5,1180.8 1907.9,1165.6 1914.9,1166.8 1922.5,1182.0 1927.6,1174.4 1933.9,1168.1 1937.7,1180.8 1941.5,1173.2 1945.9,1166.8 1950.0,1183.3 1952.3,1187.0 1954.7,1178.8 1957.0,1177.7 1959.3,1174.5 1961.6,1190.1 1964.0,1179.2 1966.3,1186.3 1968.6,1175.6 1971.0,1179.2 1973.3,1171.9 1975.6,1177.2 1978.0,1184.5 1980.3,1174.6 1982.6,1185.1 1984.9,1181.1 1987.3,1175.1 1989.6,1178.4 1991.9,1178.0 1994.3,1180.6 1996.6,1179.0 1998.9,1177.0 2001.2,1178.4 2003.6,1175.6 2005.9,1174.1 2008.2,1179.4 2010.6,1183.3 2012.9,1172.0 2015.2,1178.3 2017.6,1174.1 2019.9,1173.0 2022.2,1181.3 2024.5,1174.6 2026.9,1183.8 2029.2,1173.3 2031.5,1178.0 2033.9,1175.4 2036.2,1172.9 2038.5,1180.3 2040.9,1177.2 2043.2,1181.1 2045.5,1178.1 2047.8,1174.1 2050.2,1179.1 2052.5,1181.0 2054.8,1185.4 2057.2,1178.2 2059.5,1182.7 2061.8,1175.2 2064.1,1184.8 2066.5,1178.3 2068.8,1175.0 2071.1,1182.8 2073.5,1187.3 2075.8,1175.8 2078.1,1177.3 2080.5,1178.1 2082.8,1176.0 2085.1,1183.7 2087.4,1177.8 2089.8,1178.3 2092.1,1184.5 2094.4,1179.2 2096.8,1183.8 2099.1,1177.7 2101.4,1176.4 2103.8,1174.1 2106.1,1189.8 2108.4,1180.3 2110.7,1181.2 2113.1,1179.7 2115.4,1180.2 2117.7,1180.9 2120.1,1189.3 2122.4,1176.0 2124.7,1173.1 2127.0,1175.8 2129.4,1176.1 2131.7,1188.0 2134.0,1188.9 2136.4,1183.6 2138.7,1182.7 2141.0,1188.9 2143.4,1198.1 2145.7,1182.4 2148.0,1192.8 2150.3,1181.6 2152.7,1186.3 2155.0,1177.0" stroke="#000" stroke-width="4.0" stroke-opacity="0.3" fill="none" stroke-linejoin="round" stroke-linecap="round"/>
<polyline points="116.0,1122.9 123.5,1120.4 127.9,1110.3 132.3,1119.1 137.3,1098.4 139.8,1115.3 146.7,1105.3 153.0,1110.3 156.2,1090.2 160.6,1112.8 165.6,1091.5 175.0,1101.5 179.4,1097.8 181.3,1075.2 183.8,1105.3 186.0,1070.2 188.8,1091.5 191.3,1081.5 193.2,1106.6 197.8,1074.6 202.0,1086.5 205.1,1108.4 211.4,1087.1 215.1,1098.4 223.3,1082.7 225.8,1091.5 230.2,1087.1 234.6,1067.0 237.1,1090.2 240.2,1075.2 246.5,1090.2 251.5,1067.7 253.4,1086.5 256.3,1051.3 259.1,1076.4 262.2,1067.7 264.7,1077.1 269.1,1077.7 269.7,1095.3 272.9,1053.8 275.4,1078.9 282.9,1070.2 286.1,1056.4 289.8,1074.6 293.2,1045.7 296.1,1073.9 299.9,1053.2 303.6,1063.9 308.0,1048.8 309.9,1060.1 312.4,1031.9 318.3,1067.0 321.5,1037.7 323.8,1062.8 328.8,1045.3 330.7,1046.5 332.6,1013.3 337.3,1066.6 342.6,1034.6 346.4,1051.5 353.9,1037.1 358.3,1060.3 363.3,1010.1 368.7,1052.8 373.3,1030.2 376.7,1008.2 381.5,1064.7 384.6,1022.0 387.8,1031.5 390.3,1028.3 394.0,1039.0 397.8,1046.5 400.6,1023.3 403.5,1041.5 407.2,1050.3 410.4,1034.0 412.9,1042.8 414.8,1025.8 418.5,1058.4 421.7,988.8 424.2,1041.5 428.6,1060.9 433.0,1030.8 437.3,1031.5 440.5,1041.5 444.9,1018.3 449.3,1058.4 454.3,1018.9 456.8,1060.3 458.7,1041.5 460.6,1060.3 463.1,1041.5 466.2,1061.6 469.3,1060.3 473.1,1084.2 484.4,1042.8 489.4,1079.1 493.8,1086.7 496.3,1075.4 498.2,1097.3 501.0,1064.7 505.1,1102.4 508.3,1072.2 513.3,1094.2 520.2,1081.0 522.7,1084.2 525.8,1113.0 529.0,1086.7 533.4,1095.5 538.4,1109.3 540.3,1096.7 542.8,1126.8 547.2,1098.0 549.7,1100.5 554.1,1119.3 559.7,1104.9 564.7,1109.3 572.9,1119.3 577.3,1112.4 579.8,1128.7 582.9,1106.8 587.3,1124.3 591.7,1122.4 594.2,1114.3 600.0,1136.9 602.3,1141.8 604.6,1131.4 607.0,1128.0 609.3,1128.8 611.6,1130.5 613.9,1137.8 616.3,1137.5 618.6,1135.0 620.9,1127.2 623.2,1140.2 625.5,1132.7 627.9,1148.8 630.2,1130.3 632.5,1137.8 634.8,1139.2 637.2,1127.5 639.5,1151.0 641.8,1149.7 644.1,1134.3 646.4,1143.4 648.8,1138.8 651.1,1118.5 653.4,1142.6 655.7,1140.7 658.1,1142.3 660.4,1134.2 662.7,1139.0 665.0,1139.3 667.4,1150.4 669.7,1144.5 672.0,1142.8 674.3,1153.1 676.6,1136.6 679.0,1138.3 681.3,1127.5 683.6,1153.2 685.9,1150.0 688.3,1149.6 690.6,1147.8 692.9,1141.4 695.2,1141.5 697.5,1137.6 699.9,1138.1 702.2,1140.4 704.5,1151.3 706.8,1142.3 709.2,1136.3 711.5,1131.5 713.8,1130.7 716.1,1149.0 718.4,1141.1 720.8,1136.8 723.1,1133.3 725.4,1127.0 727.7,1136.1 730.1,1143.2 732.4,1134.9 734.7,1135.8 737.0,1135.4 739.4,1136.9 741.7,1125.3 744.0,1134.7 746.3,1128.6 748.6,1141.7 751.0,1129.9 753.3,1138.5 755.6,1145.4 757.9,1131.7 760.3,1130.0 762.6,1133.6 764.9,1132.8 767.2,1126.9 769.5,1138.8 771.9,1150.1 774.2,1134.8 776.5,1136.6 778.8,1129.0 781.2,1140.7 783.5,1130.3 785.8,1130.4 788.1,1148.2 790.4,1131.1 792.8,1144.6 795.1,1146.3 797.4,1135.8 799.7,1139.5 802.1,1148.3 804.4,1131.4 806.7,1128.3 809.0,1123.0 811.4,1133.7 813.7,1145.7 816.0,1140.7 818.3,1125.9 820.6,1125.3 823.0,1127.7 825.3,1135.0 827.6,1132.2 829.9,1134.3 832.3,1134.3 834.6,1129.1 836.9,1129.7 839.2,1130.9 841.5,1128.9 843.9,1134.6 846.2,1143.6 848.5,1135.3 850.8,1132.2 853.2,1118.3 855.5,1132.8 857.8,1116.9 860.1,1122.3 862.5,1138.7 864.8,1136.3 867.1,1129.4 869.4,1113.9 871.7,1121.4 874.1,1119.5 876.4,1129.7 878.7,1140.5 881.0,1123.4 883.4,1115.9 885.7,1111.5 888.0,1120.1 890.3,1119.2 892.6,1110.5 895.0,1117.7 897.3,1107.7 899.6,1123.4 901.9,1122.7 904.3,1122.0 906.6,1110.9 908.9,1117.9 911.2,1115.0 913.5,1113.1 915.9,1114.3 918.2,1106.5 920.5,1104.9 922.8,1122.1 925.2,1115.1 927.5,1117.4 929.8,1121.5 932.1,1100.7 934.5,1107.2 936.8,1113.5 939.1,1116.0 941.4,1111.8 943.7,1119.7 946.1,1112.4 948.4,1103.4 950.7,1104.2 953.0,1117.4 955.4,1115.0 957.7,1097.2 960.0,1108.7 962.5,1104.9 965.7,1108.7 969.5,1103.6 971.4,1113.7 974.6,1096.0 976.5,1099.8 979.0,1118.8 983.5,1106.1 987.3,1104.9 989.8,1111.2 992.3,1092.2 996.8,1106.1 999.6,1085.8 1001.9,1097.3 1004.4,1096.6 1008.8,1103.6 1014.5,1092.2 1019.6,1083.3 1024.7,1085.8 1029.1,1101.1 1032.3,1080.8 1035.5,1093.5 1038.6,1068.1 1041.2,1088.4 1043.1,1073.2 1047.5,1090.9 1050.7,1077.0 1055.1,1079.5 1059.6,1085.8 1064.0,1079.5 1067.2,1093.5 1071.6,1085.8 1074.8,1054.1 1077.9,1047.8 1081.8,1059.2 1085.6,1073.2 1088.1,1054.1 1091.9,1060.5 1097.0,1049.1 1099.5,1041.5 1105.8,1042.7 1109.0,1023.7 1111.6,1021.2 1113.7,1002.1 1117.3,1031.3 1121.1,1014.8 1124.9,989.5 1128.4,1022.4 1132.5,997.1 1136.3,989.5 1139.5,995.8 1141.6,1013.6 1144.5,989.5 1150.2,987.6 1155.1,963.8 1158.9,980.3 1162.7,966.3 1165.7,971.4 1172.8,930.8 1174.1,954.9 1177.4,913.1 1185.5,918.1 1190.6,942.2 1196.9,883.9 1207.1,878.8 1209.6,852.2 1211.4,896.6 1214.7,828.1 1217.2,847.1 1221.0,844.6 1224.8,816.7 1227.4,831.9 1231.2,801.5 1233.2,811.6 1237.5,809.1 1240.8,765.9 1244.4,762.1 1246.9,776.1 1251.5,763.4 1254.0,739.3 1257.8,753.3 1260.3,746.9 1267.9,763.4 1271.2,726.6 1274.8,771.0 1276.8,715.2 1278.9,731.7 1281.4,726.6 1285.7,757.1 1289.0,743.1 1292.0,788.8 1295.8,791.3 1300.2,820.5 1302.7,788.8 1306.0,833.2 1309.8,869.9 1313.6,840.8 1316.1,864.9 1319.4,848.4 1325.0,895.3 1327.6,896.6 1332.1,933.4 1337.7,918.1 1342.3,910.5 1344.0,928.3 1349.1,941.0 1351.6,966.3 1354.9,951.1 1358.5,989.2 1361.8,971.4 1373.2,979.0 1378.3,996.8 1382.1,1004.4 1384.6,1018.3 1388.4,999.3 1393.5,1014.5 1398.6,1014.5 1403.6,1027.2 1405.7,1045.0 1408.7,1037.3 1413.8,1038.6 1416.3,1031.0 1419.4,1051.3 1422.7,1032.3 1429.0,1047.5 1432.8,1060.2 1436.6,1057.6 1437.9,1066.5 1441.7,1056.4 1445.5,1065.3 1450.6,1062.7 1453.1,1066.5 1459.4,1051.3 1462.0,1060.2 1465.8,1065.3 1469.6,1046.2 1473.4,1048.8 1477.2,1081.7 1480.2,1039.9 1483.5,1042.4 1486.8,1079.2 1491.2,1067.8 1496.2,1047.5 1502.6,1069.1 1506.4,1051.3 1509.7,1070.3 1512.7,1048.8 1517.8,1052.6 1521.6,1064.0 1525.4,1055.1 1530.5,1067.8 1533.8,1049.4 1538.9,1062.1 1542.7,1026.6 1546.5,1059.6 1551.6,1031.7 1563.0,1049.4 1566.8,1036.8 1571.9,1053.3 1575.7,1022.8 1579.5,1035.5 1582.0,1017.7 1584.5,1033.0 1593.4,1011.4 1599.8,1034.2 1604.8,1015.2 1607.4,1030.4 1612.4,1012.7 1617.5,1022.8 1620.0,1008.9 1622.6,1015.2 1626.4,1003.8 1634.0,1005.1 1637.8,984.8 1641.6,1015.2 1646.7,1026.6 1651.8,1016.5 1655.6,1001.3 1659.4,1052.0 1663.9,1003.8 1669.5,1033.0 1675.8,1015.2 1680.9,1052.0 1687.3,1020.3 1694.4,1069.7 1699.4,1049.4 1707.6,1074.8 1714.7,1050.7 1720.2,1100.2 1724.0,1077.3 1730.4,1107.8 1735.5,1086.2 1740.5,1105.3 1745.6,1100.2 1751.9,1120.5 1759.5,1104.0 1762.7,1116.1 1766.5,1114.8 1769.0,1141.5 1772.2,1125.0 1773.5,1140.2 1775.4,1121.2 1777.3,1151.6 1780.4,1126.2 1784.2,1151.6 1787.4,1123.7 1791.9,1147.8 1794.4,1130.0 1799.5,1132.6 1802.0,1150.3 1805.2,1159.2 1807.7,1149.1 1812.1,1135.1 1814.7,1155.4 1818.5,1142.7 1821.7,1149.1 1824.8,1134.5 1828.6,1154.1 1832.4,1159.2 1836.2,1144.0 1840.0,1170.6 1843.2,1150.3 1845.8,1171.3 1850.2,1157.9 1853.4,1159.2 1857.2,1168.1 1862.2,1166.8 1866.0,1156.7 1869.2,1158.6 1873.0,1179.5 1876.8,1163.0 1880.6,1173.2 1884.4,1158.6 1887.6,1174.4 1890.1,1154.1 1893.1,1151.6 1895.8,1168.1 1900.3,1170.6 1903.5,1180.8 1907.9,1165.6 1914.9,1166.8 1922.5,1182.0 1927.6,1174.4 1933.9,1168.1 1937.7,1180.8 1941.5,1173.2 1945.9,1166.8 1950.0,1183.3 1952.3,1187.0 1954.7,1178.8 1957.0,1177.7 1959.3,1174.5 1961.6,1190.1 1964.0,1179.2 1966.3,1186.3 1968.6,1175.6 1971.0,1179.2 1973.3,1171.9 1975.6,1177.2 1978.0,1184.5 1980.3,1174.6 1982.6,1185.1 1984.9,1181.1 1987.3,1175.1 1989.6,1178.4 1991.9,1178.0 1994.3,1180.6 1996.6,1179.0 1998.9,1177.0 2001.2,1178.4 2003.6,1175.6 2005.9,1174.1 2008.2,1179.4 2010.6,1183.3 2012.9,1172.0 2015.2,1178.3 2017.6,1174.1 2019.9,1173.0 2022.2,1181.3 2024.5,1174.6 2026.9,1183.8 2029.2,1173.3 2031.5,1178.0 2033.9,1175.4 2036.2,1172.9 2038.5,1180.3 2040.9,1177.2 2043.2,1181.1 2045.5,1178.1 2047.8,1174.1 2050.2,1179.1 2052.5,1181.0 2054.8,1185.4 2057.2,1178.2 2059.5,1182.7 2061.8,1175.2 2064.1,1184.8 2066.5,1178.3 2068.8,1175.0 2071.1,1182.8 2073.5,1187.3 2075.8,1175.8 2078.1,1177.3 2080.5,1178.1 2082.8,1176.0 2085.1,1183.7 2087.4,1177.8 2089.8,1178.3 2092.1,1184.5 2094.4,1179.2 2096.8,1183.8 2099.1,1177.7 2101.4,1176.4 2103.8,1174.1 2106.1,1189.8 2108.4,1180.3 2110.7,1181.2 2113.1,1179.7 2115.4,1180.2 2117.7,1180.9 2120.1,1189.3 2122.4,1176.0 2124.7,1173.1 2127.0,1175.8 2129.4,1176.1 2131.7,1188.0 2134.0,1188.9 2136.4,1183.6 2138.7,1182.7 2141.0,1188.9 2143.4,1198.1 2145.7,1182.4 2148.0,1192.8 2150.3,1181.6 2152.7,1186.3 2155.0,1177.0" stroke="#000" stroke-width="2.6" fill="none" stroke-linejoin="round" stroke-linecap="round"/>
<rect x="116.0" y="36.5" width="2040.6" height="1294.3" fill="none" stroke="#000" stroke-width="5.2"/>
<path d="M116.0,1330.8V1351.3M174.3,1330.8V1345.8M232.6,1330.8V1345.8M290.9,1330.8V1345.8M349.2,1330.8V1345.8M407.5,1330.8V1351.3M465.8,1330.8V1345.8M524.1,1330.8V1345.8M582.4,1330.8V1345.8M640.7,1330.8V1345.8M699.0,1330.8V1351.3M757.3,1330.8V1345.8M815.6,1330.8V1345.8M873.9,1330.8V1345.8M932.2,1330.8V1345.8M990.5,1330.8V1351.3M1048.8,1330.8V1345.8M1107.1,1330.8V1345.8M1165.5,1330.8V1345.8M1223.8,1330.8V1345.8M1282.1,1330.8V1351.3M1340.4,1330.8V1345.8M1398.7,1330.8V1345.8M1457.0,1330.8V1345.8M1515.3,1330.8V1345.8M1573.6,1330.8V1351.3M1631.9,1330.8V1345.8M1690.2,1330.8V1345.8M1748.5,1330.8V1345.8M1806.8,1330.8V1345.8M1865.1,1330.8V1351.3M1923.4,1330.8V1345.8M1981.7,1330.8V1345.8M2040.0,1330.8V1345.8M2098.3,1330.8V1345.8M2156.6,1330.8V1351.3" stroke="#000" stroke-width="5" fill="none"/>
<text x="116.0" y="1427" text-anchor="middle" font-size="64" font-family="'Liberation Sans', Arial, Helvetica, sans-serif">20</text>
<text x="407.5" y="1427" text-anchor="middle" font-size="64" font-family="'Liberation Sans', Arial, Helvetica, sans-serif">25</text>
<text x="699.0" y="1427" text-anchor="middle" font-size="64" font-family="'Liberation Sans', Arial, Helvetica, sans-serif">30</text>
<text x="990.5" y="1427" text-anchor="middle" font-size="64" font-family="'Liberation Sans', Arial, Helvetica, sans-serif">35</text>
<text x="1282.1" y="1427" text-anchor="middle" font-size="64" font-family="'Liberation Sans', Arial, Helvetica, sans-serif">40</text>
<text x="1573.6" y="1427" text-anchor="middle" font-size="64" font-family="'Liberation Sans', Arial, Helvetica, sans-serif">45</text>
<text x="1865.1" y="1427" text-anchor="middle" font-size="64" font-family="'Liberation Sans', Arial, Helvetica, sans-serif">50</text>
<text x="2156.6" y="1427" text-anchor="middle" font-size="64" font-family="'Liberation Sans', Arial, Helvetica, sans-serif">55</text>
<text x="405.2" y="488.7" text-anchor="middle" font-size="63.6" letter-spacing="0" style="font-kerning:none;word-spacing:-4px" font-family="'Liberation Sans', Arial, Helvetica, sans-serif">Vulcan XC-72</text>
<text x="1257.8" y="152.5" text-anchor="middle" font-size="64" letter-spacing="0.6" style="font-kerning:none;word-spacing:0px" font-family="'Liberation Sans', Arial, Helvetica, sans-serif">Pt(111)</text>
<text x="1651.2" y="158.0" text-anchor="middle" font-size="64" letter-spacing="0.45" style="font-kerning:none;word-spacing:0px" font-family="'Liberation Sans', Arial, Helvetica, sans-serif">Pt(200)</text>
<text x="1476.5" y="282.0" text-anchor="middle" font-size="64" letter-spacing="0.3" style="font-kerning:none;word-spacing:0px" font-family="'Liberation Sans', Arial, Helvetica, sans-serif">Cu(111)</text>
<text x="1889.6" y="283.6" text-anchor="middle" font-size="64" letter-spacing="0.1" style="font-kerning:none;word-spacing:0px" font-family="'Liberation Sans', Arial, Helvetica, sans-serif">Cu(200)</text>
<text x="2037.4" y="914.2" text-anchor="middle" font-size="62.5" font-weight="bold" font-family="'Liberation Sans', Arial, Helvetica, sans-serif">PtCu/C</text>
<text x="2023.2" y="1121.5" text-anchor="middle" font-size="63.8" font-weight="bold" font-family="'Liberation Sans', Arial, Helvetica, sans-serif">JM20</text>
<text x="1134.4" y="1513.9" text-anchor="middle" font-size="63" font-weight="bold" font-family="'Liberation Sans', Arial, Helvetica, sans-serif">2θ (degree)</text>
<text transform="translate(93.4,684.6) rotate(-90)" text-anchor="middle" font-size="63.2" font-weight="bold" font-family="'Liberation Sans', Arial, Helvetica, sans-serif">Intensity. a.u.</text>
</svg>
</body>
</html>
